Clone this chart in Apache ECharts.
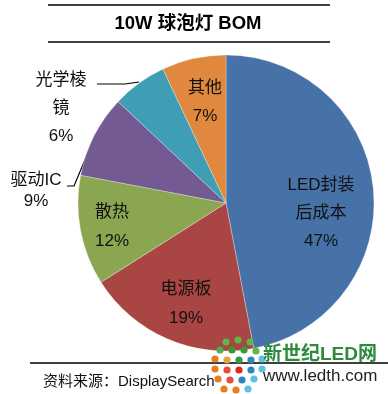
<!DOCTYPE html>
<html>
<head>
<meta charset="utf-8">
<script src="https://cdn.jsdelivr.net/npm/echarts@6/dist/echarts.min.js"></script>
<style>
html,body{margin:0;padding:0;background:#fff;}
#c{width:388px;height:394px;}
</style>
</head>
<body>
<div id="c"></div>
<script>
// ---- data ----
const categories = ['LED封装\n后成本', '电源板', '散热', '驱动IC', '光学棱\n镜', '其他'];
const values = [47, 19, 12, 9, 6, 7];
const titleText = '10W 球泡灯 BOM';
const sourceText = '资料来源：DisplaySearch';

// ---- styles ----
const colors = ['#4672a8', '#a94542', '#8ba651', '#735a92', '#3f9db6', '#e0883e'];
const FONT = "'Liberation Sans', 'Noto Sans CJK SC', sans-serif";
// label layout
const labelPos = [
  {x: 321, y: 213, lh: 28},
  {x: 186, y: 304, lh: 29},
  {x: 112, y: 227, lh: 29},
  {x: 36, y: 191, lh: 21, line: [[67, 186], [74, 186], [95, 136]]},
  {x: 61, y: 108, lh: 28, line: [[97, 84], [125, 84], [139, 82]]},
  {x: 205, y: 102, lh: 28}
];

const data = categories.map((name, i) => ({
  name: name,
  value: values[i],
  itemStyle: {color: colors[i]},
  label: {lineHeight: labelPos[i].lh, position: labelPos[i].line ? 'outside' : 'inside'},
  labelLine: {show: !!labelPos[i].line}
}));

const chart = echarts.init(document.getElementById('c'), null, {renderer: 'canvas'});

const dots = [
  [226, 342, '#5cb84a'], [238, 340, '#5cb84a'], [250, 342, '#5cb84a'],
  [220, 350, '#4caf50'], [232, 350, '#3a9a3a'], [244, 350, '#3a9a3a'], [256, 351, '#5cb84a'],
  [215, 359, '#e67e22'], [227, 360, '#e8a33a'], [239, 360, '#2e9c3e'], [251, 360, '#2e86c1'], [262, 359, '#5dc1e0'],
  [215, 369, '#e67e22'], [227, 370, '#e74c3c'], [239, 370, '#d62c1a'], [251, 370, '#2e86c1'], [262, 369, '#5dc1e0'],
  [218, 379, '#e67e22'], [230, 380, '#e74c3c'], [242, 380, '#2e86c1'], [254, 379, '#5dc1e0'],
  [224, 389, '#e67e22'], [236, 390, '#e67e22'], [248, 389, '#5dc1e0']
];

chart.setOption({
  animation: false,
  backgroundColor: '#ffffff',
  series: [{
    type: 'pie',
    center: [226, 203],
    radius: 148,
    startAngle: 90,
    clockwise: true,
    avoidLabelOverlap: false,
    data: data,
    itemStyle: {borderColor: '#ffffff', borderWidth: 0.3},
    label: {
      show: true,
      color: '#111',
      fontSize: 17,
      fontFamily: FONT,
      align: 'center',
      overflow: 'none',
      alignTo: 'none',
      formatter: p => p.name + '\n' + p.value + '%'
    },
    labelLine: {lineStyle: {color: '#000', width: 1.2}, length: 10, length2: 10},
    labelLayout: function (params) {
      const lp = labelPos[params.dataIndex];
      const r = {x: lp.x, y: lp.y, align: 'center', verticalAlign: 'middle', hideOverlap: false};
      if (lp.line) r.labelLinePoints = lp.line;
      return r;
    },
    emphasis: {disabled: true}
  }],
  graphic: [
    {type: 'line', shape: {x1: 48, y1: 5, x2: 330, y2: 5}, style: {stroke: '#000', lineWidth: 1.5}},
    {type: 'line', shape: {x1: 48, y1: 42, x2: 330, y2: 42}, style: {stroke: '#000', lineWidth: 1.5}},
    {type: 'text', x: 188, y: 24, style: {text: titleText, fill: '#000', font: "bold 18.5px " + FONT, textAlign: 'center', textVerticalAlign: 'middle'}},
    {type: 'line', z: 10, shape: {x1: 30, y1: 363, x2: 388, y2: 363}, style: {stroke: '#000', lineWidth: 1.3}},
    {type: 'text', x: 43, y: 382, style: {text: sourceText, fill: '#111', font: "15px " + FONT, textAlign: 'left', textVerticalAlign: 'middle'}},
    ...dots.map(d => ({type: 'circle', z: 11, shape: {cx: d[0], cy: d[1], r: 3.6}, style: {fill: d[2]}})),
    {type: 'text', z: 12, x: 263, y: 355, style: {text: '新世纪LED网', fill: '#2e8b3e', font: "bold 19px " + FONT, textAlign: 'left', textVerticalAlign: 'middle'}},
    {type: 'text', z: 12, x: 263, y: 376, style: {text: 'www.ledth.com', fill: '#222', font: "17px " + FONT, textAlign: 'left', textVerticalAlign: 'middle'}}
  ]
});
</script>
</body>
</html>
